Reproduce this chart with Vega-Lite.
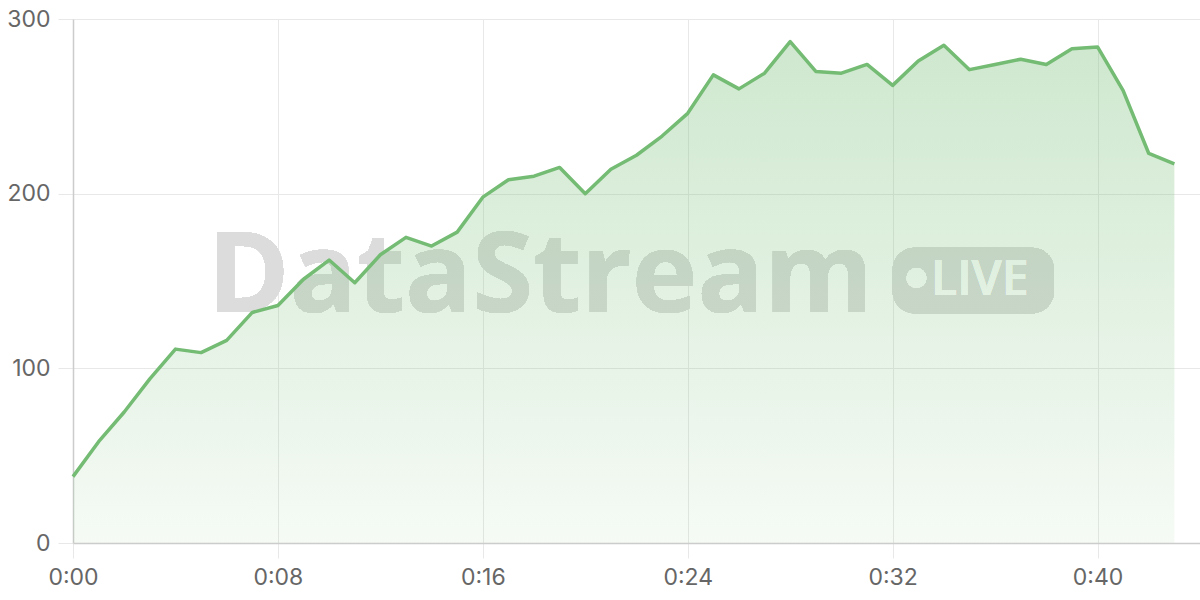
{
  "$schema": "https://vega.github.io/schema/vega-lite/v6.json",
  "width": 1127,
  "height": 524,
  "autosize": {"type": "none"},
  "padding": {"left": 73, "top": 19, "right": 0, "bottom": 57},
  "background": "#ffffff",
  "config": {
    "view": {"stroke": null},
    "axis": {
      "labelFont": "Inter",
      "labelFontSize": 23,
      "labelColor": "#666666",
      "labelFlush": false,
      "gridColor": "#e8e8e8",
      "gridWidth": 1,
      "domainColor": "#cccccc",
      "domainWidth": 1.5,
      "tickColor": "#e8e8e8",
      "tickSize": 15,
      "title": null
    }
  },
  "data": {
    "values": [
      {"t": 0, "v": 38}, {"t": 1, "v": 58}, {"t": 2, "v": 75}, {"t": 3, "v": 94},
      {"t": 4, "v": 111}, {"t": 5, "v": 109}, {"t": 6, "v": 116}, {"t": 7, "v": 132},
      {"t": 8, "v": 136}, {"t": 9, "v": 151}, {"t": 10, "v": 162}, {"t": 11, "v": 149},
      {"t": 12, "v": 165}, {"t": 13, "v": 175}, {"t": 14, "v": 170}, {"t": 15, "v": 178},
      {"t": 16, "v": 198}, {"t": 17, "v": 208}, {"t": 18, "v": 210}, {"t": 19, "v": 215},
      {"t": 20, "v": 200}, {"t": 21, "v": 214}, {"t": 22, "v": 222}, {"t": 23, "v": 233},
      {"t": 24, "v": 246}, {"t": 25, "v": 268}, {"t": 26, "v": 260}, {"t": 27, "v": 269},
      {"t": 28, "v": 287}, {"t": 29, "v": 270}, {"t": 30, "v": 269}, {"t": 31, "v": 274},
      {"t": 32, "v": 262}, {"t": 33, "v": 276}, {"t": 34, "v": 285}, {"t": 35, "v": 271},
      {"t": 36, "v": 274}, {"t": 37, "v": 277}, {"t": 38, "v": 274}, {"t": 39, "v": 283},
      {"t": 40, "v": 284}, {"t": 41, "v": 259}, {"t": 42, "v": 223}, {"t": 43, "v": 217}
    ]
  },
  "encoding": {
    "x": {
      "field": "t",
      "type": "quantitative",
      "scale": {"domain": [0, 44], "nice": false, "zero": false},
      "axis": {
        "values": [0, 8, 16, 24, 32, 40],
        "labelExpr": "'0:' + (datum.value < 10 ? '0' : '') + datum.value",
        "labelPadding": 8,
        "grid": true
      }
    },
    "y": {
      "field": "v",
      "type": "quantitative",
      "scale": {"domain": [0, 300], "nice": false},
      "axis": {"values": [0, 100, 200, 300], "labelPadding": 8, "grid": true}
    }
  },
  "layer": [
    {
      "mark": {"type": "rect", "cornerRadius": 22, "fill": "#dcdcdc", "strokeWidth": 0},
      "encoding": {
        "x": {"datum": 32.0, "type": "quantitative"},
        "x2": {"datum": 38.3},
        "y": {"datum": 169, "type": "quantitative"},
        "y2": {"datum": 131.5}
      }
    },
    {
      "mark": {
        "type": "text",
        "text": "DataStream",
        "font": "Open Sans",
        "fontWeight": "bold",
        "fontSize": 111,
        "fill": "#dcdcdc",
        "align": "center",
        "baseline": "alphabetic"
      },
      "encoding": {
        "x": {"datum": 18.25, "type": "quantitative"},
        "y": {"datum": 132.5, "type": "quantitative"}
      }
    },
    {
      "mark": {"type": "point", "shape": "circle", "filled": true, "size": 400, "fill": "#ffffff", "strokeWidth": 0, "opacity": 1},
      "encoding": {
        "x": {"datum": 32.93, "type": "quantitative"},
        "y": {"datum": 151.7, "type": "quantitative"}
      }
    },
    {
      "mark": {
        "type": "text",
        "text": "LIVE",
        "font": "Open Sans",
        "fontWeight": 600,
        "fontSize": 48,
        "fill": "#ffffff",
        "align": "left",
        "baseline": "alphabetic"
      },
      "encoding": {
        "x": {"datum": 33.5, "type": "quantitative"},
        "y": {"datum": 142.0, "type": "quantitative"}
      }
    },
    {
      "mark": {
        "type": "area",
        "line": false,
        "color": {
          "gradient": "linear",
          "x1": 0, "y1": 0, "x2": 0, "y2": 1,
          "stops": [
            {"offset": 0, "color": "rgba(120,190,120,0.36)"},
            {"offset": 1, "color": "rgba(120,190,120,0.07)"}
          ]
        }
      }
    },
    {
      "mark": {"type": "line", "color": "#74bb74", "strokeWidth": 3.5, "strokeJoin": "round"}
    }
  ]
}
